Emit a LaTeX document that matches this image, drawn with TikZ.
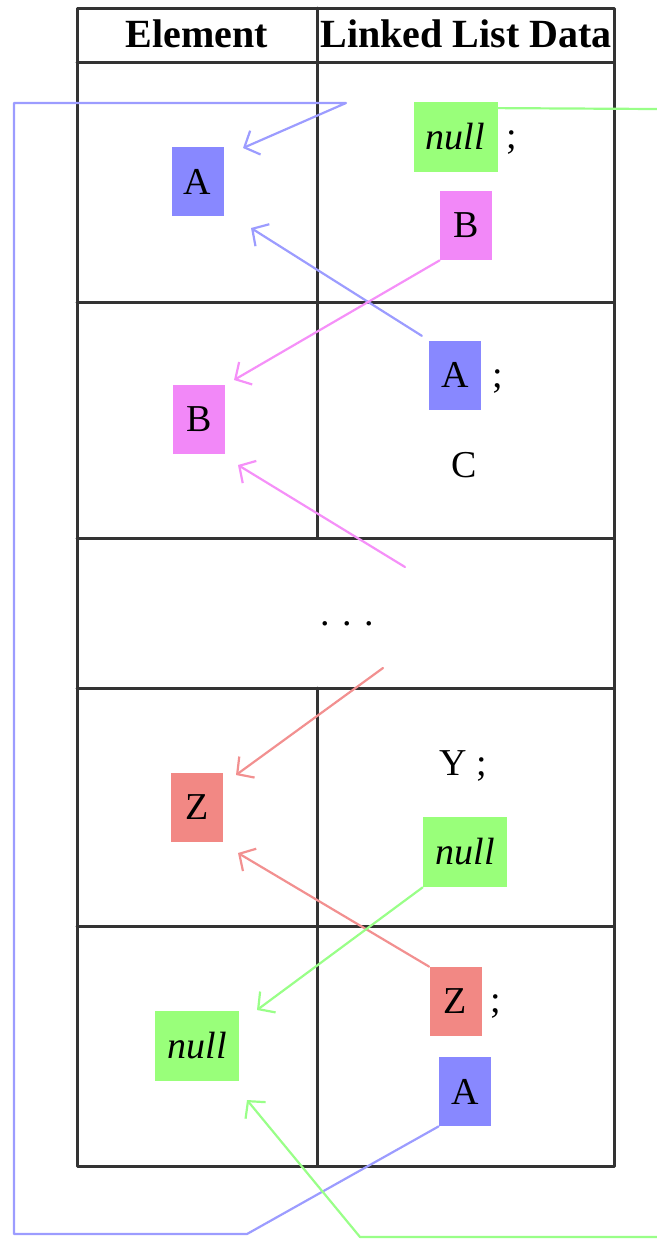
\documentclass[tikz,border=0pt]{standalone}
\usepackage{fontspec}
\setmainfont{Liberation Serif}
\usetikzlibrary{arrows.meta}

\definecolor{boxblue}{HTML}{8888FF}
\definecolor{boxpink}{HTML}{F288F8}
\definecolor{boxred}{HTML}{F28884}
\definecolor{boxgreen}{HTML}{99FF7A}
\definecolor{lineblue}{HTML}{9C9CFF}
\definecolor{linepink}{HTML}{F590F8}
\definecolor{linered}{HTML}{F29090}
\definecolor{linegreen}{HTML}{99FF88}

\begin{document}
\begin{tikzpicture}[
  x=0.5pt,
  y=-0.5pt,
  line cap=round,
  line join=round,
  cell/.style={inner sep=0pt, minimum width=26pt, minimum height=34.5pt,
    font=\fontsize{19}{23}\selectfont},
  nullcell/.style={cell, minimum width=42pt, minimum height=35pt,
    font=\fontsize{19}{23}\selectfont\itshape},
  txt/.style={inner sep=0pt, font=\fontsize{19}{23}\selectfont},
  head/.style={inner sep=0pt, font=\fontsize{20}{24}\selectfont\bfseries},
  link/.style={line width=1.1pt, -{Straight Barb[length=6pt,width=13pt]}},
  grid/.style={line width=1.5pt, black!80}
]
  \useasboundingbox (0,0) rectangle (657,1239);

  % Таблица
  \draw[grid] (77,8) rectangle (614,1166);
  \draw[grid] (77,62) -- (614,62);
  \draw[grid] (77,302) -- (614,302);
  \draw[grid] (77,538) -- (614,538);
  \draw[grid] (77,688) -- (614,688);
  \draw[grid] (77,926) -- (614,926);
  \draw[grid] (317,8) -- (317,538);
  \draw[grid] (317,688) -- (317,1166);

  % Заголовки
  \node[head, anchor=base] (hElem) at (197,47) {Element};
  \node[head, anchor=base] (hData) at (466,47) {Linked List Data};

  % Элементы
  \node[cell, fill=boxblue] (eA) at (197.5,181.5) {A};
  \node[cell, fill=boxpink] (eB) at (199,419.5) {B};
  \node[cell, fill=boxred] (eZ) at (197,807.5) {Z};
  \node[nullcell, fill=boxgreen] (eNull) at (197,1046) {null};

  % Данные списка
  \node[nullcell, fill=boxgreen] (dNull1) at (455.5,136.5) {null};
  \node[txt, anchor=base] (s1) at (512,148) {;};
  \node[cell, fill=boxpink] (dB1) at (466,225.5) {B};

  \node[cell, fill=boxblue] (dA2) at (455,375) {A};
  \node[txt, anchor=base] (s2) at (498,387) {;};
  \node[txt, anchor=base] (tC) at (464,477) {C};

  \node[txt, anchor=base] (tDots) at (347,625) {.\,\,.\,\,.};

  \node[txt, anchor=base] (tY) at (463,775) {Y ;};
  \node[nullcell, fill=boxgreen] (dNull4) at (465,852) {null};

  \node[cell, fill=boxred] (dZ5) at (455.5,1001.5) {Z};
  \node[txt, anchor=base] (s5) at (496,1012) {;};
  \node[cell, fill=boxblue] (dA5) at (465,1091.5) {A};

  % Концы стрелок
  \coordinate (tipA1) at (243,148);
  \coordinate (tipA2) at (251,228);
  \coordinate (tipB1) at (234,380);
  \coordinate (tipB2) at (238,465);
  \coordinate (tipZ1) at (236,775);
  \coordinate (tipZ2) at (238,853);
  \coordinate (tipN1) at (257,1010);
  \coordinate (tipN2) at (247,1100);

  % Изломы и свободные концы
  \coordinate (loopA) at (247,1234);
  \coordinate (loopB) at (14,1234);
  \coordinate (loopC) at (14,103);
  \coordinate (loopD) at (346,103);
  \coordinate (tailB) at (405,567);
  \coordinate (tailZ) at (383,668);
  \coordinate (edgeN1) at (657,109);
  \coordinate (edgeN2) at (657,1237);
  \coordinate (bendN2) at (360,1237);

  % Синие связи
  \draw[link, lineblue] (dA5.south west) -- (loopA) -- (loopB) -- (loopC) -- (loopD) -- (tipA1);
  \draw[link, lineblue, shorten <=4pt] (dA2.north west) -- (tipA2);

  % Розовые связи
  \draw[link, linepink] (dB1.south west) -- (tipB1);
  \draw[link, linepink] (tailB) -- (tipB2);

  % Красные связи
  \draw[link, linered] (tailZ) -- (tipZ1);
  \draw[link, linered] (dZ5.north west) -- (tipZ2);

  % Зелёные связи
  \draw[line width=1.1pt, linegreen] ([yshift=-3.5pt]dNull1.north east) -- (edgeN1);
  \draw[link, linegreen] (dNull4.south west) -- (tipN1);
  \draw[link, linegreen] (edgeN2) -- (bendN2) -- (tipN2);
\end{tikzpicture}
\end{document}
